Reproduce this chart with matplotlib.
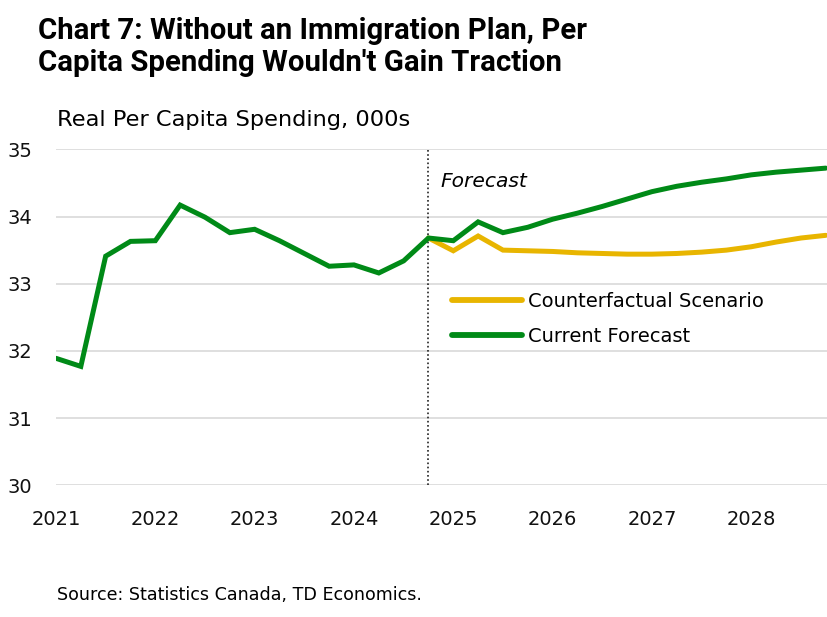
import matplotlib
matplotlib.use("Agg")
import matplotlib.pyplot as plt

# quarterly data, 2021Q1 .. 2028Q4
years = ["2021", "2022", "2023", "2024", "2025", "2026", "2027", "2028"]

current = [31.89, 31.77, 33.41, 33.63, 33.64, 34.17, 33.99, 33.76,
           33.81, 33.64, 33.45, 33.26, 33.28, 33.16, 33.34, 33.68,
           33.64, 33.92, 33.76, 33.84, 33.96, 34.05, 34.15, 34.26,
           34.37, 34.45, 34.51, 34.56, 34.62, 34.66, 34.69, 34.72]

# counterfactual starts at the last actual quarter (2024Q4)
counter_start = 15
counterfactual = [33.68, 33.49, 33.71, 33.50, 33.49, 33.48, 33.46, 33.45,
                  33.44, 33.44, 33.45, 33.47, 33.50, 33.55, 33.62, 33.68, 33.72]

green = "#008a17"
yellow = "#e8b500"
body_font = "DejaVu Sans"

plt.rcParams['font.family'] = [body_font]

fig = plt.figure(figsize=(8.27, 6.17), dpi=100)
ax = fig.add_axes([56/827, 0.2134, 1 - 56/827, 0.758 - 0.2134])

x_all = list(range(len(current)))
x_cf = list(range(counter_start, counter_start + len(counterfactual)))

ax.plot(x_cf, counterfactual, color=yellow, lw=3.6, label="Counterfactual Scenario",
        solid_capstyle="round", solid_joinstyle="miter")
ax.plot(x_all, current, color=green, lw=3.6, label="Current Forecast",
        solid_capstyle="round", solid_joinstyle="miter")

ax.axvline(counter_start, color="#222222", lw=1.2, ls=(0, (1, 1.5)), zorder=1)
ax.text(15.5, 34.52, "Forecast", fontsize=14.6, style="italic", ha="left", va="center")

ax.set_ylim(30, 35)
ax.set_xlim(0, 31.05)
ax.set_yticks([30, 31, 32, 33, 34, 35])
ax.set_xticks(range(0, 32, 4))
ax.set_xticklabels(years)
ax.grid(axis="y", color="#d9d9d9", lw=1.2)
ax.set_axisbelow(True)
for s in ax.spines.values():
    s.set_visible(False)
ax.tick_params(axis="both", length=0, labelsize=14, colors="#111111")
ax.tick_params(axis="x", pad=18)
ax.tick_params(axis="y", pad=17)

leg = ax.legend(loc="center left", bbox_to_anchor=(0.5136, 0.495), frameon=False,
                fontsize=14, handlelength=3.6, handletextpad=0.3, labelspacing=0.8,
                borderpad=0, borderaxespad=0)
for line in leg.get_lines():
    line.set_linewidth(4.2)
    line.set_solid_capstyle("round")

fig.text(38/827, 0.972, "Chart 7: Without an Immigration Plan, Per\nCapita Spending Wouldn't Gain Traction",
         fontsize=21.2, fontweight="bold", ha="left", va="top", linespacing=1.15,
         family=["Roboto", "DejaVu Sans"])
fig.text(57/827, 1 - 126/617, "Real Per Capita Spending, 000s", fontsize=16.2,
         ha="left", va="baseline")
fig.text(57/827, 1 - 595/617, "Source: Statistics Canada, TD Economics.", fontsize=12.6,
         ha="left", va="center")

fig.savefig("out.png", dpi=100)
